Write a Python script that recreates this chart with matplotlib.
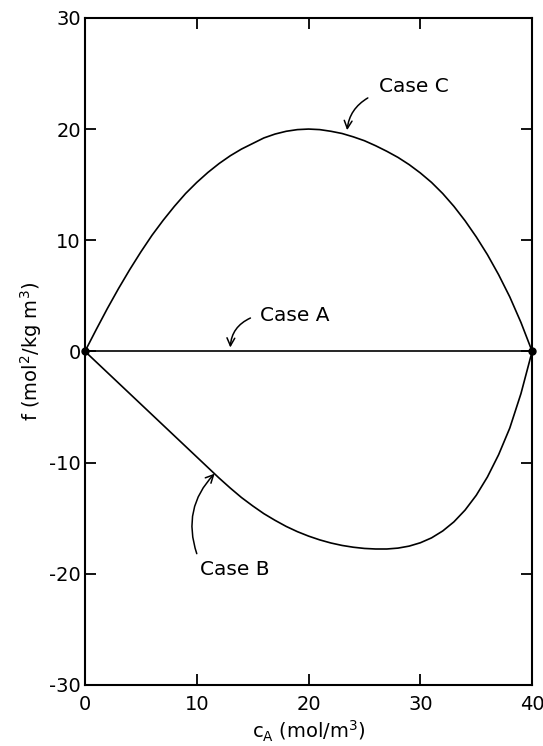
import matplotlib.pyplot as plt

plt.rcParams['font.family'] = 'DejaVu Sans'
plt.rcParams['axes.unicode_minus'] = False

# concentration of A (mol/m3)
c_a = list(range(0, 41))

# f for the three cases
f_case_a = [0] * len(c_a)
f_case_b = [0, -0.95, -1.9, -2.85, -3.8, -4.75, -5.7, -6.65, -7.6, -8.55,
            -9.5, -10.45, -11.4, -12.3, -13.15, -13.9, -14.6, -15.2, -15.75, -16.22,
            -16.62, -16.96, -17.24, -17.46, -17.62, -17.73, -17.78, -17.78, -17.7, -17.52,
            -17.22, -16.78, -16.16, -15.34, -14.28, -12.95, -11.3, -9.3, -6.9, -3.8,
            0]
f_case_c = [0, 1.95, 3.85, 5.65, 7.35, 8.95, 10.45, 11.8, 13.05, 14.2,
            15.2, 16.1, 16.9, 17.6, 18.2, 18.7, 19.2, 19.55, 19.8, 19.95,
            20.0, 19.95, 19.8, 19.6, 19.3, 18.95, 18.5, 18.0, 17.45, 16.8,
            16.05, 15.2, 14.2, 13.05, 11.75, 10.3, 8.7, 6.9, 4.9, 2.6,
            0]

fig = plt.figure(figsize=(5.43, 7.46), dpi=100)
ax = fig.add_axes([0.1565, 0.082, 0.8235, 0.894])

ax.plot(c_a, f_case_c, color='black', lw=1.2)
ax.plot(c_a, f_case_b, color='black', lw=1.2)
ax.plot(c_a, f_case_a, color='black', lw=1.2)
ax.plot([c_a[0], c_a[-1]], [0, 0], 'o', color='black', ms=5, clip_on=False)

ax.set_xlim(0, 40)
ax.set_ylim(-30, 30)
ax.set_xticks([0, 10, 20, 30, 40])
ax.set_yticks([-30, -20, -10, 0, 10, 20, 30])
ax.tick_params(direction='in', length=8, width=1.3, labelsize=14, pad=3,
               top=True, right=True)
ax.tick_params(axis='x', pad=7)
for s in ax.spines.values():
    s.set_linewidth(1.5)

ax.set_xlabel(r'c$_\mathregular{A}$ (mol/m$^\mathregular{3}$)', fontsize=14, labelpad=4)
ax.set_ylabel(r'f (mol$^\mathregular{2}$/kg m$^\mathregular{3}$)', fontsize=14, labelpad=4)

arrow = dict(arrowstyle='->', color='black', lw=1.1, mutation_scale=14, shrinkA=0, shrinkB=0)

ax.text(29.4, 23.8, 'Case C', fontsize=14.5, ha='center', va='center')
ax.annotate('', xy=(23.45, 19.9), xytext=(25.3, 22.8),
            arrowprops=dict(arrow, connectionstyle='arc3,rad=0.25'))

ax.text(18.8, 3.2, 'Case A', fontsize=14.5, ha='center', va='center')
ax.annotate('', xy=(13.0, 0.35), xytext=(14.8, 3.0),
            arrowprops=dict(arrow, connectionstyle='arc3,rad=0.3'))

ax.text(13.4, -19.6, 'Case B', fontsize=14.5, ha='center', va='center')
ax.annotate('', xy=(11.6, -11.0), xytext=(10.0, -18.2),
            arrowprops=dict(arrow, connectionstyle='arc3,rad=-0.3'))

fig.savefig('out.png', dpi=100)
